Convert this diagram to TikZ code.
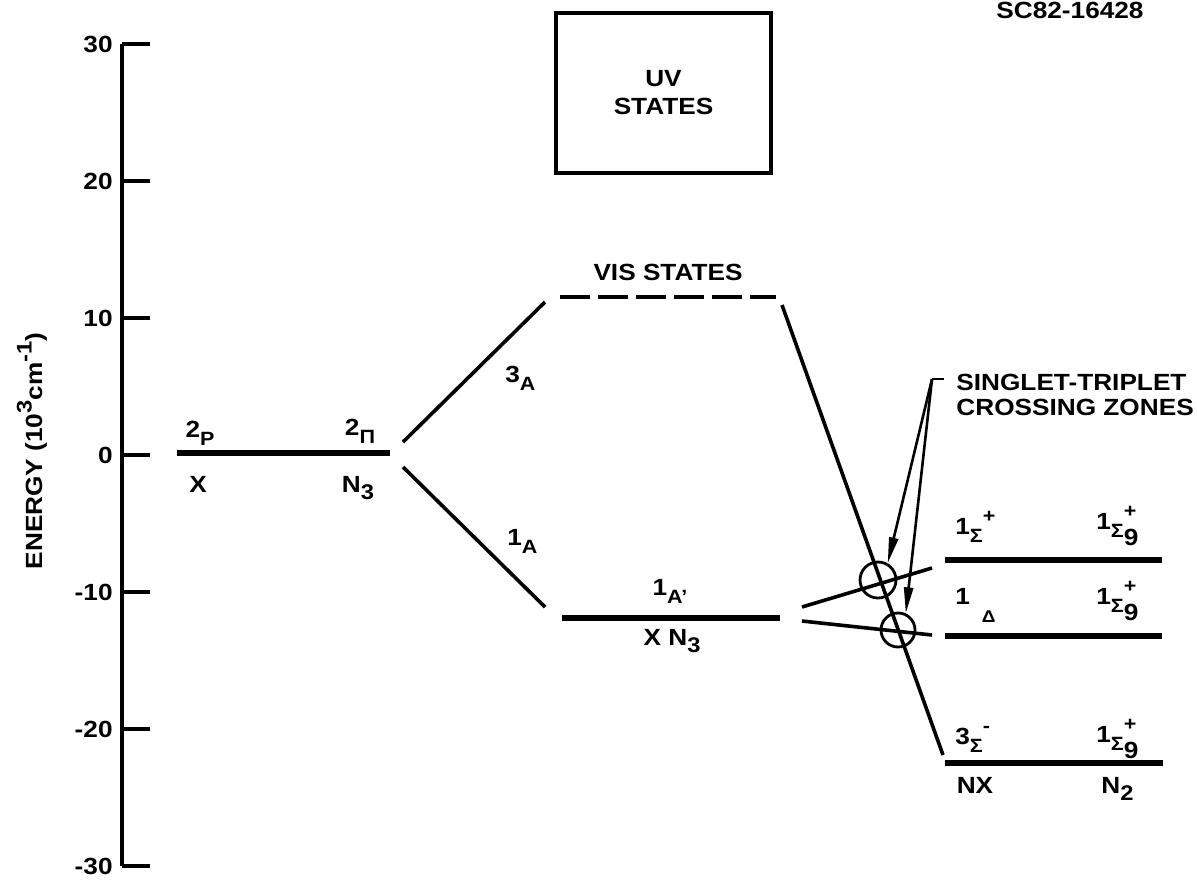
\documentclass[tikz,border=0pt]{standalone}
\usepackage{fontspec}
\newfontfamily\lab{Liberation Sans}[FakeStretch=1.12]
\usetikzlibrary{arrows.meta}
\newcommand\nm[2]{\raisebox{0.32em}{#1}{\fontsize{9.6}{9.6}\selectfont #2}}
\newcommand\spsb[2]{\rlap{\raisebox{0.85em}{\fontsize{9.6}{9.6}\selectfont #1}}\raisebox{-0.35em}{#2}}
\newcommand\sbs[1]{\raisebox{-0.32em}{\fontsize{10.6}{10.6}\selectfont #1}}
\newcommand\sps[1]{\raisebox{0.45em}{\fontsize{10.6}{10.6}\selectfont #1}}
\begin{document}
\begin{tikzpicture}[x=0.5pt,y=-0.5pt,
  font=\lab\bfseries\fontsize{11.7}{13}\selectfont,
  level/.style={line width=3pt},
  conn/.style={line width=1.8pt},
  axisline/.style={line width=2.2pt},
  ring/.style={circle,draw,line width=1.4pt,inner sep=0pt},
  lead/.style={line width=1.3pt},
  leadarrow/.style={line width=1.3pt,-{Triangle[length=13pt,width=4.5pt]}},
  lbl/.style={inner sep=0pt,anchor=base},
  lblw/.style={inner sep=0pt,anchor=base west}]
\useasboundingbox (0,0) rectangle (1197,879);
\node[lbl] (code) at (1070,18) {SC82-16428};

% axis
\coordinate (atop) at (122,44);
\coordinate (abot) at (122,866);
\draw[axisline] (atop) -- (abot);
\foreach \v/\y/\n in {30/44/a,20/181/b,10/318/c,0/455/d,-10/592/e,-20/729/f,-30/866/g}{
  \coordinate (tk\n) at (122,\y);
  \coordinate (te\n) at (150,\y);
  \draw[axisline] (tk\n) -- (te\n);
  \node[anchor=east,inner sep=0pt] (tl\n) at (113,\y) {\v};
}
\node[rotate=90,inner sep=0pt] (ylab) at (32,451) {ENERGY (10\sps{3}cm\sps{-1})};

% ground level X + N3
\coordinate (gL) at (177,453);
\coordinate (gR) at (390,453);
\draw[level] (gL) -- (gR);
\node[lbl] (l2p) at (200,445) {\nm{2}{P}};
\node[lbl] (lx) at (198,492) {X};
\node[lbl] (l2pi) at (360,443) {\nm{2}{Π}};
\node[lbl] (ln3) at (358,492) {N\sbs{3}};

% diverging lines
\coordinate (u1) at (403,442);
\coordinate (u2) at (545,302);
\coordinate (d1) at (403,467);
\coordinate (d2) at (545,607);
\draw[conn] (u1) -- (u2);
\draw[conn] (d1) -- (d2);
\node[lblw] (l3a) at (505,390) {\nm{3}{A}};
\node[lblw] (l1a) at (507,553) {\nm{1}{A}};

% UV box
\node[draw,line width=1.7pt,minimum width=107.5pt,minimum height=80pt,align=center,
  font=\lab\bfseries\fontsize{11.7}{14}\selectfont] (uv) at (663.5,93) {UV\\STATES};

% VIS states
\coordinate (vL) at (560,297);
\coordinate (vR) at (776,297);
\draw[line width=2.4pt,dash pattern=on 15pt off 4pt] (vL) -- (vR);
\node[lbl] (lvis) at (668,280) {VIS STATES};

% X N3 1A' level
\coordinate (xL) at (562,618);
\coordinate (xR) at (780,618);
\draw[level] (xL) -- (xR);
\node[lbl] (l1ap) at (670,603) {\nm{1}{A’}};
\node[lbl] (lxn3) at (672,645) {X N\sbs{3}};

% long line from VIS to NX
\coordinate (s1) at (782,305);
\coordinate (s2) at (943,755);
\draw[conn] (s1) -- (s2);

% lines from 1A' to right
\coordinate (p1) at (802,607);
\coordinate (p2) at (932,568);
\coordinate (q1) at (802,621);
\coordinate (q2) at (932,635);
\draw[conn] (p1) -- (p2);
\draw[conn] (q1) -- (q2);

% right levels
\coordinate (r1L) at (945,560);
\coordinate (r1R) at (1162,560);
\coordinate (r2L) at (945,636);
\coordinate (r2R) at (1162,636);
\coordinate (r3L) at (945,763);
\coordinate (r3R) at (1163,763);
\draw[level] (r1L) -- (r1R);
\draw[level] (r2L) -- (r2R);
\draw[level] (r3L) -- (r3R);

\node[lblw] (ls1) at (955,542) {\nm{1}{Σ}\raisebox{0.85em}{\fontsize{9.6}{9.6}\selectfont +}};
\node[lblw] (ls1g) at (1096,537) {\nm{1}{Σ}\spsb{+}{9}};
\node[lblw] (ld1) at (955,622) {\raisebox{0.75em}{1}\hspace{6pt}{\fontsize{8.5}{8.5}\selectfont Δ}};
\node[lblw] (ls2g) at (1096,612) {\nm{1}{Σ}\spsb{+}{9}};
\node[lblw] (ls3) at (955,752) {\nm{3}{Σ}\raisebox{0.85em}{\fontsize{9.6}{9.6}\selectfont -}};
\node[lblw] (ls3g) at (1096,750) {\nm{1}{Σ}\spsb{+}{9}};
\node[lbl] (lnx) at (975,793) {NX};
\node[lblw] (ln2) at (1101,793) {N\sbs{2}};

% crossing zones
\node[ring,minimum size=18pt] (c1) at (878,580) {};
\node[ring,minimum size=17pt] (c2) at (898,630) {};
\node[lblw] (st1) at (956,390) {SINGLET-TRIPLET};
\node[lblw] (st2) at (956,415) {CROSSING ZONES};
\coordinate (ld) at (944,379);
\coordinate (lc) at (932,379);
\draw[lead] (ld) -- (lc);
\draw[leadarrow] (lc) -- (c1.60);
\draw[leadarrow] (lc) -- (c2.65);
\end{tikzpicture}
\end{document}
